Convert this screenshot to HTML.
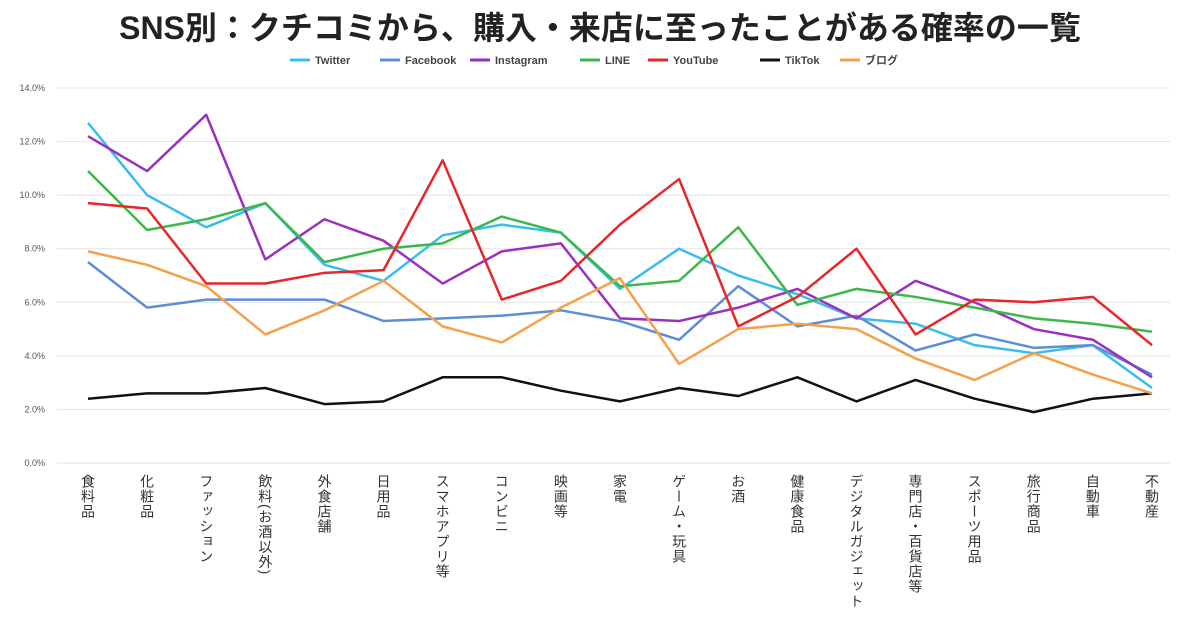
<!DOCTYPE html>
<html><head><meta charset="utf-8"><style>
body{margin:0;background:#fff;width:1200px;height:630px;overflow:hidden;font-family:"Liberation Sans","Noto Sans CJK JP",sans-serif}
.xl{position:absolute;top:474px;writing-mode:vertical-rl;font-size:14px;letter-spacing:1px;color:#333;line-height:14px;transform:translateX(-7px)}
</style></head><body>
<div style="position:absolute;top:3px;left:0;width:1200px;text-align:center;font-size:32px;font-weight:bold;color:#222;font-family:'Liberation Sans','Noto Sans CJK JP',sans-serif">SNS別：クチコミから、購入・来店に至ったことがある確率の一覧</div>
<svg id="c" width="1200" height="630" style="position:absolute;left:0;top:0"></svg>
<div id="xl"></div>
<script>
const categories=["食料品","化粧品","ファッション","飲料(お酒以外)","外食店舗","日用品","スマホアプリ等","コンビニ","映画等","家電","ゲーム・玩具","お酒","健康食品","デジタルガジェット","専門店・百貨店等","スポーツ用品","旅行商品","自動車","不動産"];
const seriesNames=["Twitter","Facebook","Instagram","LINE","YouTube","TikTok","ブログ"];
const colors=["#3bbcf0","#5b8ed6","#9b2fc0","#3cb84a","#e8262a","#111111","#f5a04a"];
const twitter=[12.7,10.0,8.8,9.7,7.4,6.8,8.5,8.9,8.6,6.5,8.0,7.0,6.3,5.4,5.2,4.4,4.1,4.4,2.8];
const facebook=[7.5,5.8,6.1,6.1,6.1,5.3,5.4,5.5,5.7,5.3,4.6,6.6,5.1,5.5,4.2,4.8,4.3,4.4,3.3];
const instagram=[12.2,10.9,13.0,7.6,9.1,8.3,6.7,7.9,8.2,5.4,5.3,5.8,6.5,5.4,6.8,6.0,5.0,4.6,3.2];
const line=[10.9,8.7,9.1,9.7,7.5,8.0,8.2,9.2,8.6,6.6,6.8,8.8,5.9,6.5,6.2,5.8,5.4,5.2,4.9];
const youtube=[9.7,9.5,6.7,6.7,7.1,7.2,11.3,6.1,6.8,8.9,10.6,5.1,6.2,8.0,4.8,6.1,6.0,6.2,4.4];
const tiktok=[2.4,2.6,2.6,2.8,2.2,2.3,3.2,3.2,2.7,2.3,2.8,2.5,3.2,2.3,3.1,2.4,1.9,2.4,2.6];
const blog=[7.9,7.4,6.6,4.8,5.7,6.8,5.1,4.5,5.8,6.9,3.7,5.0,5.2,5.0,3.9,3.1,4.1,3.3,2.6];
const yTicks=[0,2,4,6,8,10,12,14];
const allSeries=[twitter,facebook,instagram,line,youtube,tiktok,blog];
const svg=document.getElementById('c');const NS='http://www.w3.org/2000/svg';
const x=i=>88+i*(1152-88)/(categories.length-1);
const y=v=>463-v*(463-88)/14;
function mk(t,a){const e=document.createElementNS(NS,t);for(const k in a)e.setAttribute(k,a[k]);svg.appendChild(e);return e;}
yTicks.forEach(t=>{
 const g=mk('line',{x1:57,x2:1170,y1:y(t),y2:y(t),stroke:'#e3e3e3','stroke-width':1});
 
 
 const l=mk('text',{x:45,y:y(t)+3,'text-anchor':'end','font-size':9,fill:'#555'});l.textContent=t.toFixed(1)+'%';
 
 
});
allSeries.forEach((s,k)=>{
 const p=mk('polyline',{points:s.map((v,i)=>x(i)+','+y(v)).join(' '),fill:'none',stroke:colors[k],'stroke-width':2.5,'stroke-linejoin':'round'});
 
 
});
const legX=[290,380,470,580,648,760,840];
seriesNames.forEach((n,k)=>{
 const l=mk('line',{x1:legX[k],x2:legX[k]+20,y1:60,y2:60,stroke:colors[k],'stroke-width':3});
 
 
 const t=mk('text',{x:legX[k]+25,y:64,'font-size':11,'font-weight':'bold',fill:'#444'});t.textContent=n;
 
 
});
const xl=document.getElementById('xl');
categories.forEach((c,i)=>{
 const d=document.createElement('div');d.className='xl';d.style.left=x(i)+'px';d.textContent=c;
 
 
 xl.appendChild(d);
});
</script>
</body></html>
